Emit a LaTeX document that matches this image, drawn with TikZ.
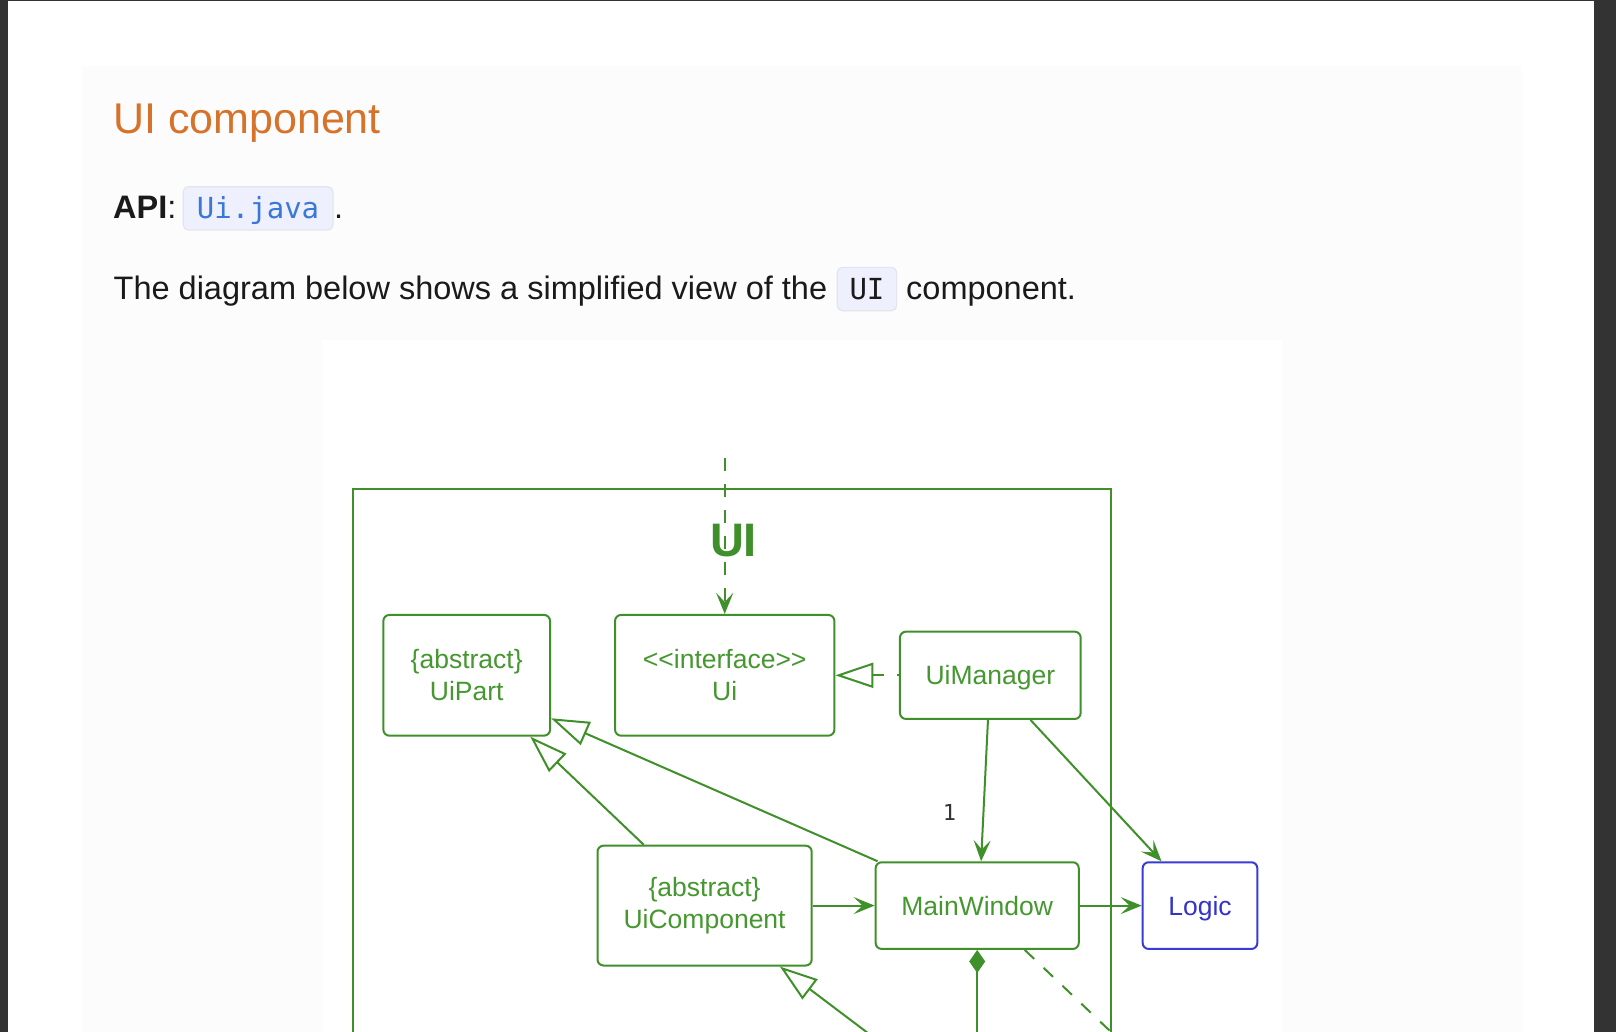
\documentclass[tikz,border=0pt]{standalone}
\usepackage{fontspec}
\setmainfont{Liberation Sans}
\newfontfamily\codefont{DejaVu Sans Mono}
\usetikzlibrary{arrows.meta}
\definecolor{darkframe}{HTML}{333333}
\definecolor{panelbg}{HTML}{FCFCFC}
\definecolor{titleorange}{HTML}{D67229}
\definecolor{bodyblack}{HTML}{1A1A1A}
\definecolor{codeblue}{HTML}{3A78D8}
\definecolor{codebg}{HTML}{EEF0FD}
\definecolor{codeborder}{HTML}{E2E5EE}
\definecolor{umlgreen}{HTML}{3F902A}
\definecolor{umltext}{HTML}{45972F}
\definecolor{logicblue}{HTML}{3A3AD6}
\definecolor{logictext}{HTML}{3434C8}
\definecolor{multgray}{HTML}{333333}
\tikzset{
  bodytext/.style={inner sep=0pt, text=bodyblack, font=\fontsize{32.5}{39}\selectfont},
  codebox/.style={inner sep=0pt, rounded corners=5pt, fill=codebg, draw=codeborder, line width=1.2pt,
    text height=31.6pt, text depth=11.7pt, font=\fontsize{29}{34}\codefont},
  umlbox/.style={draw=umlgreen, line width=2pt, rounded corners=6pt, text=umltext,
    font=\fontsize{26.5}{31.6}\selectfont, align=center, inner sep=0pt},
  umlline/.style={draw=umlgreen, line width=2pt},
  umldash/.style={dash pattern=on 13pt off 13pt},
  navarrow/.style={-{Stealth[length=21pt, width=17pt, inset=9pt]}},
  inherit/.style={-{Triangle[open, length=38pt, width=25pt]}},
}
\begin{document}
\begin{tikzpicture}[x=1pt, y=-1pt]
\useasboundingbox (0,0) rectangle (1616,1032);
\clip (0,0) rectangle (1616,1032);
% page background
\fill[darkframe] (0,0) rectangle (1616,1032);
\fill[white] (8,1.5) rectangle (1594,1032);
\fill[panelbg] (82,66) rectangle (1522,1032);
\fill[white] (322,340) rectangle (1282,1032);

% text
\node[anchor=base west, inner sep=0pt, text=titleorange, font=\fontsize{43}{50}\selectfont] (title) at (113,134) {UI component};
\node[anchor=base west, bodytext] (api) at (113,218.3) {\textbf{API}:};
\node[codebox, text=codeblue, minimum width=149.6pt, anchor=base west] (codeapi) at (182.7,218.3) {Ui.java};
\node[anchor=base west, bodytext] (apidot) at (334,218.3) {.};
\node[anchor=base west, bodytext] (bodyone) at (113.5,299) {The diagram below shows a simplified view of the};
\node[codebox, text=bodyblack, minimum width=59.3pt, anchor=base west] (codeui) at (836.7,299) {UI};
\node[anchor=base west, bodytext] (bodytwo) at (906,299) {component.};

% package frame
\draw[umlline] (352.7,1045) -- (352.7,489) -- (1110.8,489) -- (1110.8,1045);
\node[anchor=base, inner sep=0pt, text=umlgreen, font=\fontsize{47}{47}\selectfont\bfseries] (uilabel) at (733.5,556.5) {UI};

% classes
\node[umlbox, minimum width=166.7pt, minimum height=120.7pt] (uipart) at (466.7,675.3) {\{abstract\}\\UiPart};
\node[umlbox, minimum width=219.3pt, minimum height=120.7pt] (ui) at (724.7,675.3) {<\kern0pt<interface>\kern0pt>\\Ui};
\node[umlbox, text depth=0pt, minimum width=180.7pt, minimum height=87.3pt] (uimanager) at (990.3,675.3) {UiManager};
\node[umlbox, minimum width=214.2pt, minimum height=119.8pt] (uicomponent) at (704.6,905.6) {\{abstract\}\\UiComponent};
\node[umlbox, minimum width=203.1pt, minimum height=86.7pt] (mainwindow) at (977.2,905.6) {MainWindow};
\node[umlbox, text depth=0pt, draw=logicblue, text=logictext, minimum width=114.7pt, minimum height=86.7pt] (logic) at (1200,905.6) {Logic};

% free ends
\coordinate (apitop) at (724.7,458);
\coordinate (mwdown) at (977.2,1045);
\coordinate (mwdash) at (1130,1050);
\coordinate (uicbelow) at (893,1052);

% connectors
\draw[umlline, umldash, navarrow] (apitop) -- (ui.north);
\draw[umlline, umldash, dash phase=11pt, inherit] (uimanager.west) -- (ui.east);
\draw[umlline, navarrow] (uimanager.-93.4) -- (mainwindow.85.4)
  node[pos=0.658, xshift=-34pt, inner sep=0pt, text=multgray, font=\fontsize{22}{24}\codefont] (one) {1};
\draw[umlline, navarrow] (uimanager.-48.2) -- (logic.131.5);
\draw[umlline, navarrow] (uicomponent.east) -- (mainwindow.west);
\draw[umlline, navarrow] (mainwindow.east) -- (logic.west);
\draw[umlline, inherit] (mainwindow.156.4) -- (uipart.-27.8);
\draw[umlline, inherit] (uicomponent.135.7) -- (uipart.-44.9);
\draw[umlline, {Diamond[length=23pt, width=16pt]}-] (mainwindow.south) -- (mwdown);
\draw[umlline, umldash] (mainwindow.-43.6) -- (mwdash);
\draw[umlline, inherit] (uicbelow) -- (uicomponent.-39.2);
\end{tikzpicture}
\end{document}
